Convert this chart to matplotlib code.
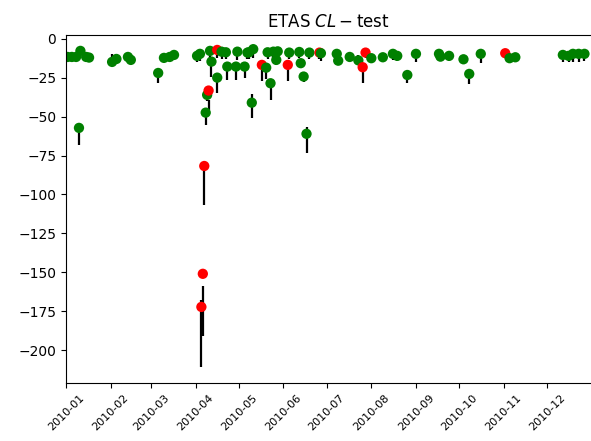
import numpy as np
import matplotlib
matplotlib.use("Agg")
import matplotlib.pyplot as plt
import matplotlib.dates as mdates

# fechas de cada ventana de prueba
fechas = ['2010-01-02', '2010-01-05', '2010-01-08', '2010-01-10', '2010-01-11',
          '2010-01-15', '2010-01-17', '2010-02-02', '2010-02-05', '2010-02-13',
          '2010-02-15', '2010-03-06', '2010-03-10', '2010-03-14', '2010-03-17',
          '2010-04-02', '2010-04-04', '2010-04-05', '2010-04-06', '2010-04-07',
          '2010-04-08', '2010-04-09', '2010-04-10', '2010-04-11', '2010-04-12',
          '2010-04-16', '2010-04-16', '2010-04-19', '2010-04-22', '2010-04-23',
          '2010-04-29', '2010-04-30', '2010-05-05', '2010-05-07', '2010-05-08',
          '2010-05-10', '2010-05-11', '2010-05-17', '2010-05-20', '2010-05-21',
          '2010-05-23', '2010-05-25', '2010-05-27', '2010-05-28', '2010-06-04',
          '2010-06-05', '2010-06-12', '2010-06-13', '2010-06-15', '2010-06-17',
          '2010-06-19', '2010-06-26', '2010-06-27', '2010-07-08', '2010-07-09',
          '2010-07-17', '2010-07-23', '2010-07-26', '2010-07-28', '2010-08-01',
          '2010-08-09', '2010-08-16', '2010-08-19', '2010-08-26', '2010-09-01',
          '2010-09-17', '2010-09-18', '2010-09-24', '2010-10-04', '2010-10-08',
          '2010-10-16', '2010-11-02', '2010-11-05', '2010-11-09', '2010-12-12',
          '2010-12-16', '2010-12-19', '2010-12-23', '2010-12-27']

# log-verosimilitud observada
obs = [-11.6, -11.6, -11.6, -57.2, -7.7, -11.6, -12.0, -14.8, -12.9, -11.6,
       -13.5, -21.9, -12.2, -11.6, -10.3, -10.9, -9.6, -172.3, -151.0, -81.7,
       -47.4, -36.0, -33.2, -7.7, -14.6, -7.1, -24.9, -8.2, -8.6, -17.8,
       -17.8, -8.2, -17.8, -8.8, -8.6, -41.0, -6.6, -16.7, -18.5, -8.6,
       -28.5, -8.2, -13.5, -8.0, -16.7, -8.8, -8.4, -15.6, -24.2, -61.0,
       -8.8, -8.8, -9.2, -9.6, -14.0, -11.6, -13.8, -18.2, -8.8, -12.4,
       -11.8, -9.6, -10.9, -23.2, -9.6, -9.6, -11.4, -10.9, -13.1, -22.5,
       -9.6, -9.2, -12.4, -11.8, -10.3, -10.9, -9.6, -9.6, -9.6]

# intervalo simulado (inferior / superior)
sim_inf = [-13.5, -15.0, -14.0, -68.2, -10.0, -13.0, -13.5, -17.0, -15.0, -13.0,
           -15.5, -28.3, -14.0, -13.5, -12.5, -15.0, -14.5, -210.9, -191.0, -106.8,
           -55.3, -40.0, -45.7, -12.0, -24.3, -12.0, -34.9, -13.0, -13.0, -26.4,
           -26.4, -13.5, -25.0, -13.0, -13.0, -50.6, -12.0, -27.3, -26.0, -13.0,
           -39.4, -12.5, -17.0, -12.0, -27.3, -13.0, -12.5, -19.0, -27.5, -73.3,
           -13.0, -13.0, -14.0, -13.0, -16.5, -14.0, -16.5, -28.5, -12.0, -15.0,
           -14.0, -13.5, -14.0, -28.5, -14.6, -13.0, -14.0, -14.0, -15.5, -29.2,
           -15.2, -12.0, -14.5, -14.0, -14.6, -14.6, -14.6, -14.6, -14.0]
sim_sup = [-11.6, -11.6, -11.6, -57.2, -7.7, -11.6, -12.0, -9.5, -10.0, -11.6,
           -13.5, -21.9, -12.2, -11.6, -10.3, -10.9, -9.6, -168.0, -158.8, -84.0,
           -45.0, -34.0, -39.0, -7.7, -14.6, -9.0, -24.9, -8.2, -8.6, -17.8,
           -17.8, -8.2, -17.8, -8.8, -8.6, -35.6, -6.6, -20.0, -18.5, -8.6,
           -28.5, -8.2, -13.5, -8.0, -19.0, -8.8, -8.4, -15.6, -24.2, -56.6,
           -8.8, -11.0, -9.2, -9.6, -14.0, -11.6, -10.5, -21.0, -10.5, -12.4,
           -11.8, -9.6, -10.9, -23.2, -9.6, -9.6, -11.4, -10.9, -13.1, -22.5,
           -9.6, -11.0, -12.4, -11.8, -10.3, -10.9, -9.6, -9.6, -9.6]

# r = prueba fallida, g = aprobada
estado = ['g'] * 17 + ['r', 'r', 'r', 'g', 'g', 'r', 'g', 'g', 'r'] + ['g'] * 11 + \
         ['r', 'g', 'g', 'g', 'g', 'g', 'g', 'r'] + ['g'] * 6 + ['r'] + ['g'] * 5 + \
         ['r', 'r'] + ['g'] * 12 + ['r'] + ['g'] * 7

t = np.array(fechas, dtype='datetime64[D]')
colores = ['red' if e == 'r' else 'green' for e in estado]

fig = plt.figure(figsize=(5.91, 4.41), dpi=100)
ax = fig.add_axes([0.1117, 0.1322, 0.8893, 0.7884])

ax.vlines(t, sim_inf, sim_sup, colors='k', linewidth=1.6, zorder=1)
ax.scatter(t, obs, c=colores, s=55, linewidths=0, zorder=2)

ax.set_xlim(np.datetime64('2010-01-01T00'), np.datetime64('2010-12-31T23'))
ax.set_ylim(-221, 2.5)
ax.set_yticks([0, -25, -50, -75, -100, -125, -150, -175, -200])
ax.xaxis.set_major_locator(mdates.MonthLocator())
ax.xaxis.set_major_formatter(mdates.DateFormatter('%Y-%m'))
plt.setp(ax.get_xticklabels(), rotation=45, fontsize=8)
ax.set_title(r'ETAS $CL-\mathrm{test}$', fontsize=12)

fig.savefig('out.png', dpi=100)
